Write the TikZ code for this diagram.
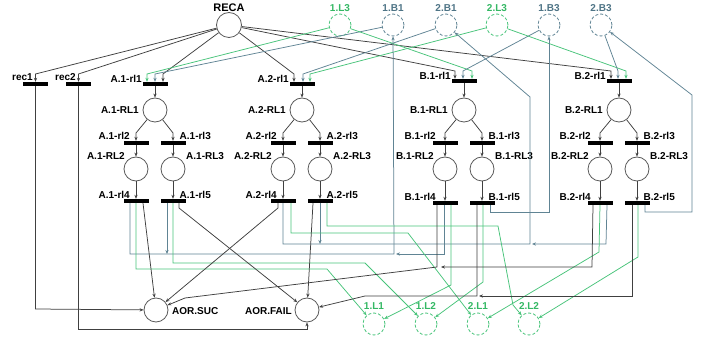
\documentclass[tikz,border=0pt]{standalone}
\usepackage{fontspec}
\setmainfont{Liberation Sans}
\usetikzlibrary{arrows.meta,calc}

\definecolor{arcK}{RGB}{64,64,64}
\definecolor{arcB}{RGB}{96,132,148}
\definecolor{arcG}{RGB}{72,196,122}
\definecolor{plc}{RGB}{90,90,90}
\definecolor{txtB}{RGB}{78,116,134}
\definecolor{txtG}{RGB}{52,184,100}

\begin{document}
\begin{tikzpicture}[x=1pt,y=-1pt,
  lbl/.style={font=\bfseries\fontsize{10}{12}\selectfont, inner sep=0pt},
  place/.style={circle, draw=plc, line width=0.8pt, minimum size=24pt, inner sep=0pt},
  vplace/.style={circle, draw, line width=0.8pt, dash pattern=on 3pt off 2pt, minimum size=22pt, inner sep=0pt},
  trans/.style={rectangle, fill=black, minimum width=25pt, minimum height=4pt, inner sep=0pt},
  tip/.style={-{Stealth[length=4pt,width=3.2pt]}},
  ak/.style={draw=arcK, line width=0.75pt, tip},
  ab/.style={draw=arcB, line width=0.75pt, tip},
  ag/.style={draw=arcG, line width=0.75pt, tip},
]
\fill[white] (0,0) rectangle (710,339);
\useasboundingbox (0,0) rectangle (710,339);

% ---------- resource places on top ----------
\node[place, minimum size=25pt] (reca) at (229,25) {};
\node[lbl, font=\bfseries\fontsize{11}{13}\selectfont] (recalbl) at (229,8) {RECA};
\node[vplace, draw=arcG] (l13) at (340,25) {};
\node[vplace, draw=arcB] (b11) at (393,25) {};
\node[vplace, draw=arcB] (b21) at (446,25) {};
\node[vplace, draw=arcG] (l23) at (497,25) {};
\node[vplace, draw=arcB] (b13) at (549,25) {};
\node[vplace, draw=arcB] (b23) at (601,25) {};
\node[lbl, text=txtG] (l13lbl) at (340,8) {1.L3};
\node[lbl, text=txtB] (b11lbl) at (393,8) {1.B1};
\node[lbl, text=txtB] (b21lbl) at (446,8) {2.B1};
\node[lbl, text=txtG] (l23lbl) at (497,8) {2.L3};
\node[lbl, text=txtB] (b13lbl) at (549,8) {1.B3};
\node[lbl, text=txtB] (b23lbl) at (601,8) {2.B3};

% ---------- recovery transitions ----------
\node[trans] (r1) at (35.5,84) {};
\node[trans] (r2) at (78.5,84) {};
\node[lbl, anchor=east] (r1lbl) at (33,77) {rec1};
\node[lbl, anchor=east] (r2lbl) at (76,77) {rec2};

% ---------- result places ----------
\node[place] (suc) at (156,310) {};
\node[place] (fail) at (307,310) {};
\node[lbl, anchor=west] (suclbl) at (172,311) {AOR.SUC};
\node[lbl, anchor=east] (faillbl) at (292,311) {AOR.FAIL};
\node[vplace, draw=arcG] (l11) at (374,324) {};
\node[vplace, draw=arcG] (l12) at (426,324) {};
\node[vplace, draw=arcG] (l21) at (478,324) {};
\node[vplace, draw=arcG] (l22) at (529,324) {};
\node[lbl, text=txtG] (l11lbl) at (374,306) {1.L1};
\node[lbl, text=txtG] (l12lbl) at (426,306) {1.L2};
\node[lbl, text=txtG] (l21lbl) at (478,306) {2.L1};
\node[lbl, text=txtG] (l22lbl) at (529,306) {2.L2};

% ---------- the four recovery-line subnets ----------
\foreach \n/\lab/\x/\ya/\yb/\dd in {a1/A.1/155/84/201/-6, a2/A.2/302/84/201/-6,
                                   b1/B.1/464/81/203/-9, b2/B.2/619/81/203/-9}{
  \node[trans] (\n-t1) at (\x,\ya) {};
  \node[place] (\n-p1) at (\x,110) {};
  \node[trans] (\n-t2) at (\x-19,143) {};
  \node[trans] (\n-t3) at (\x+18,143) {};
  \node[place] (\n-p2) at (\x-19,169) {};
  \node[place] (\n-p3) at (\x+18,169) {};
  \node[trans] (\n-t4) at (\x-19,\yb) {};
  \node[trans] (\n-t5) at (\x+18,\yb) {};
  \node[lbl, anchor=east] (\n-t1lbl) at (\x-13,\ya-5) {\lab-rl1};
  \node[lbl, anchor=east] (\n-p1lbl) at (\x-16,110) {\lab-RL1};
  \node[lbl, anchor=east] (\n-t2lbl) at (\x-19+\dd,136) {\lab-rl2};
  \node[lbl, anchor=west] (\n-t3lbl) at (\x+24.5,136) {\lab-rl3};
  \node[lbl, anchor=east] (\n-p2lbl) at (\x-30,156) {\lab-RL2};
  \node[lbl, anchor=west] (\n-p3lbl) at (\x+31,156) {\lab-RL3};
  \node[lbl, anchor=east] (\n-t4lbl) at (\x-19+\dd,\yb-6) {\lab-rl4};
  \node[lbl, anchor=west] (\n-t5lbl) at (\x+24.5,\yb-6) {\lab-rl5};
  \draw[ak] (\n-t1) -- (\n-p1);
  \draw[ak] (\n-p1) -- (\x-19,133) -- (\n-t2);
  \draw[ak] (\n-p1) -- (\x+18,133) -- (\n-t3);
  \draw[ak] (\n-t2) -- (\n-p2);
  \draw[ak] (\n-t3) -- (\n-p3);
  \draw[ak] (\n-p2) -- (\n-t4);
  \draw[ak] (\n-p3) -- (\n-t5);
}

% ---------- arcs into the start transitions ----------
\draw[ak] (reca) -- (35.5,74) -- (r1.north);
\draw[ak] (reca) -- (78.5,74) -- (r2.north);
\draw[ak] (reca) -- (163,74) -- ([xshift=8pt]a1-t1.north);
\draw[ak] (reca) -- (294,74) -- ([xshift=-8pt]a2-t1.north);
\draw[ak] (reca) -- (455,71) -- ([xshift=-9pt]b1-t1.north);
\draw[ak] (reca) -- (611,71) -- ([xshift=-8pt]b2-t1.north);
\draw[ag] (l13) -- (147,74) -- ([xshift=-8pt]a1-t1.north);
\draw[ab] (b11) -- (155,74) -- (a1-t1.north);
\draw[ab] (b21) -- (303,74) -- ([xshift=1pt]a2-t1.north);
\draw[ag] (l23) -- (310,74) -- ([xshift=8pt]a2-t1.north);
\draw[ag] (l13) -- (472,71) -- ([xshift=8pt]b1-t1.north);
\draw[ab] (b13) -- (463,71) -- ([xshift=-1pt]b1-t1.north);
\draw[ag] (l23) -- (626,71) -- ([xshift=7pt]b2-t1.north);
\draw[ab] (b23) -- (618,71) -- ([xshift=-1pt]b2-t1.north);

% ---------- returned B tokens ----------
\draw[ab] ([xshift=-6pt]a1-t4.south) -- (130,254) -- (394,254) -- (b11);
\draw[ab] ([xshift=-6pt]a1-t5.south) -- (167,254);
\draw[ab] ([xshift=-1pt]b1-t4.south) -- (444,254) -- (396,254);
\draw[ab] (a2-t4.south) -- (283,244) -- (530,244) -- (530,97) -- (b21);
\draw[ab] (a2-t5.south) -- (320,244);
\draw[ab] ([xshift=7pt]b2-t4.south) -- (606,244) -- (532,244);
\draw[ab] ([xshift=8pt]b1-t5.south) -- (490,212) -- (549,212) -- (b13);
\draw[ab] ([xshift=8pt]b2-t5.south) -- (645,212) -- (692,212) -- (692,95) -- (b23);

% ---------- released L tokens ----------
\draw[ag] (a1-t4.south) -- (136,269) -- (327,269) -- (l11);
\draw[ag] (a1-t5.south) -- (173,263) -- (365,263) -- (l12);
\draw[ag] ([xshift=6pt]b1-t4.south) -- (451,285) -- (l11);
\draw[ag] ([xshift=1pt]b1-t5.south) -- (483,282) -- (l12);
\draw[ag] ([xshift=8pt]a2-t4.south) -- (291,233) -- (408,233) -- (l21);
\draw[ag] ([xshift=7pt]a2-t5.south) -- (327,226) -- (498,226) -- (513,305) -- (l22);
\draw[ag] (b2-t4.south) -- (599,252) -- (l21);
\draw[ag] ([xshift=1pt]b2-t5.south) -- (638,257) -- (l22);

% ---------- outcomes ----------
\draw[ak] ([xshift=7pt]a1-t4.south) -- (suc);
\draw[ak] ([xshift=6pt]a1-t5.south) -- (179,208) -- (fail);
\draw[ak] ([xshift=-5pt]a2-t4.south) -- (278,208) -- (suc);
\draw[ak] ([xshift=-7pt]a2-t5.south) -- (fail);
\draw[ak] ([xshift=-8pt]b1-t4.south) -- (437,267) -- (185,298) -- (suc);
\draw[ak] ([xshift=-7pt]b2-t4.south) -- (592,267) -- (441,267);
\draw[ak] ([xshift=-5pt]b1-t5.south) -- (477,296) -- (365,296) -- (fail);
\draw[ak] ([xshift=-5pt]b2-t5.south) -- (632,296) -- (479,296);
\draw[ak] (r1.south) -- (35.5,309) -- (suc);
\draw[ak] (r2.south) -- (78.5,329) -- (307,329) -- (fail);
\end{tikzpicture}
\end{document}
